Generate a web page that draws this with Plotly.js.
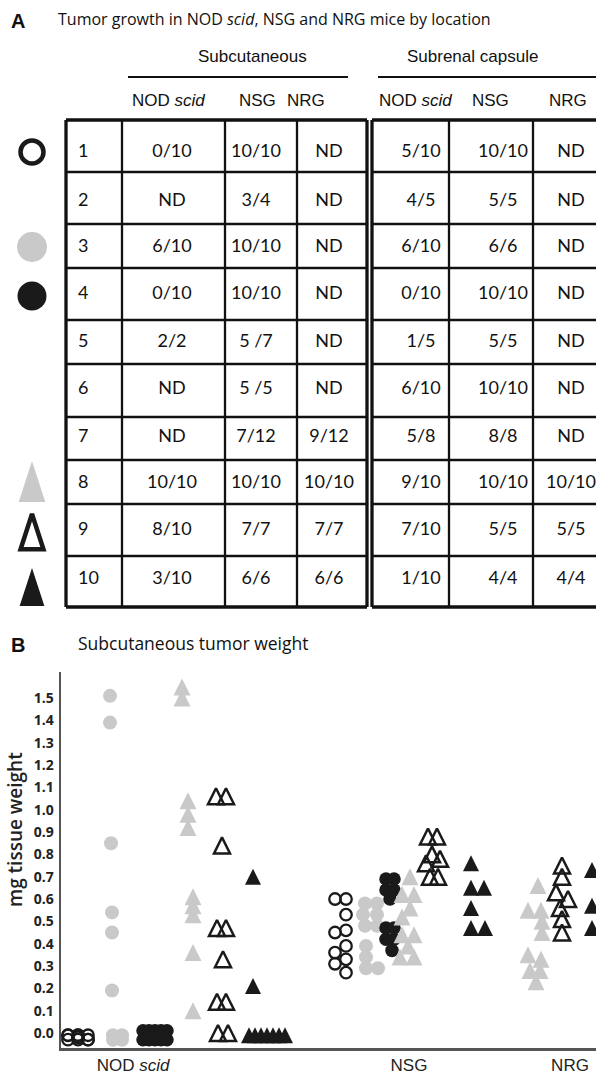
<!DOCTYPE html>
<html><head><meta charset="utf-8">
<script src="https://cdn.plot.ly/plotly-3.0.1.min.js"></script>
<style>html,body{margin:0;padding:0;background:#fff}#chart{width:596px;height:1079px}</style>
</head><body><div id="chart"></div>
<script>
// ================= PANEL A : table data =================
const panelATitle = 'Tumor growth in NOD <i>scid</i>, NSG and NRG mice by location';
const siteLabels = ['Subcutaneous', 'Subrenal capsule'];
const strainLabels = ['NOD <i>scid</i>', 'NSG', 'NRG'];
const tumorIds = ['1','2','3','4','5','6','7','8','9','10'];
const subcutNODscid = ['0/10','ND','6/10','0/10','2/2','ND','ND','10/10','8/10','3/10'];
const subcutNSG     = ['10/10','3/4','10/10','10/10','5 /7','5 /5','7/12','10/10','7/7','6/6'];
const subcutNRG     = ['ND','ND','ND','ND','ND','ND','9/12','10/10','7/7','6/6'];
const subrenNODscid = ['5/10','4/5','6/10','0/10','1/5','6/10','5/8','9/10','7/10','1/10'];
const subrenNSG     = ['10/10','5/5','6/6','10/10','5/5','10/10','8/8','10/10','5/5','4/4'];
const subrenNRG     = ['ND','ND','ND','ND','ND','ND','ND','10/10','5/5','4/4'];
const legendTumors  = ['1','3','4','8','9','10'];

// ================= PANEL B : scatter data =================
const panelBTitle = 'Subcutaneous tumor weight';
const yAxisTitle = 'mg tissue weight';
const yTickLabels = ['0.0','0.1','0.2','0.3','0.4','0.5','0.6','0.7','0.8','0.9','1.0','1.1','1.2','1.3','1.4','1.5'];
const strainTicks = ['NOD <i>scid</i>', 'NSG', 'NRG'];

// NOD scid (position along strain axis, weight in mg)
const nodT1Pos  = [68,78,88,68,78,88,68,78,88,78];
const nodT1Wt   = [-0.01,-0.01,-0.01,-0.03,-0.03,-0.03,-0.01,-0.01,-0.03,-0.02];
const nodT3Pos  = [110,110,111,112,112,112,113,122,113,122];
const nodT3Wt   = [1.51,1.39,0.85,0.54,0.45,0.19,-0.01,-0.01,-0.03,-0.03];
const nodT4Pos  = [143,149,155,161,167,143,149,155,161,167];
const nodT4Wt   = [0.01,0.01,0.01,0.01,0.01,-0.03,-0.03,-0.03,-0.03,-0.03];
const nodT8Pos  = [182,182,188,188,188,193,193,193,193,193];
const nodT8Wt   = [1.55,1.50,1.04,0.98,0.92,0.61,0.57,0.53,0.36,0.10];
const nodT9Pos  = [216,226,222,217,226,223,217,226,218,228];
const nodT9Wt   = [1.06,1.06,0.84,0.47,0.47,0.33,0.14,0.14,0.00,0.00];
const nodT10Pos = [252,253,253,249,255,261,267,273,279,285];
const nodT10Wt  = [1.64,0.70,0.21,-0.01,-0.01,-0.01,-0.01,-0.01,-0.01,-0.01];
// NSG
const nsgT1Pos  = [335,335,335,335,346,346,346,346,346,346];
const nsgT1Wt   = [0.60,0.45,0.36,0.31,0.60,0.53,0.46,0.39,0.33,0.27];
const nsgT3Pos  = [365,377,363,377,365,377,366,366,366,378];
const nsgT3Wt   = [0.58,0.58,0.53,0.53,0.48,0.48,0.39,0.34,0.29,0.29];
const nsgT4Pos  = [386,394,386,394,390,386,394,386,394,392];
const nsgT4Wt   = [0.69,0.69,0.64,0.64,0.60,0.47,0.47,0.42,0.42,0.37];
const nsgT8Pos  = [410,402,414,410,402,402,414,408,400,414];
const nsgT8Wt   = [0.70,0.62,0.62,0.56,0.52,0.44,0.44,0.39,0.34,0.34];
const nsgT9Pos  = [428,437,432,440,426,430,438];
const nsgT9Wt   = [0.88,0.88,0.80,0.78,0.76,0.70,0.70];
const nsgT10Pos = [471,471,484,471,471,485];
const nsgT10Wt  = [0.76,0.65,0.65,0.56,0.47,0.47];
// NRG
const nrgT8Pos  = [538,528,541,542,542,528,541,530,540,536];
const nrgT8Wt   = [0.66,0.55,0.55,0.50,0.45,0.35,0.33,0.28,0.28,0.23];
const nrgT9Pos  = [562,562,556,568,560,562,562];
const nrgT9Wt   = [0.75,0.70,0.63,0.60,0.56,0.51,0.45];
const nrgT10Pos = [592,604,592,604,592,604];
const nrgT10Wt  = [0.73,0.73,0.57,0.57,0.47,0.47];

// ================= styling / layout =================
const GRAY = '#c9c9c9', BLACK = '#1a1a1a';
function style(t) {
  switch (t) {
    case '1':  return {symbol:'circle-open', color:BLACK, size:11.5, line:{width:2.3, color:BLACK}};
    case '3':  return {symbol:'circle', color:GRAY, size:14, line:{width:0}};
    case '4':  return {symbol:'circle', color:BLACK, size:13.5, line:{width:0}};
    case '8':  return {symbol:'arrow-down', angle:180, standoff:8.5, color:GRAY, size:17, line:{width:0}};
    case '9':  return {symbol:'arrow-down-open', angle:180, standoff:8, color:BLACK, size:16, line:{width:2.5, color:BLACK}};
    case '10': return {symbol:'arrow-down', angle:180, standoff:8, color:BLACK, size:16, line:{width:0}};
  }
}
// larger legend symbols beside the table (tall arrow heads, tip-anchored)
function legendStyle(t) {
  switch (t) {
    case '1':  return {m:{symbol:'circle-open', color:BLACK, size:23, line:{width:4.5, color:BLACK}}, dy:0};
    case '3':  return {m:{symbol:'circle', color:GRAY, size:30, line:{width:0}}, dy:0};
    case '4':  return {m:{symbol:'circle', color:BLACK, size:29, line:{width:0}}, dy:2};
    case '8':  return {m:{symbol:'arrow', color:GRAY, size:43, line:{width:0}}, dy:-22};
    case '9':  return {m:{symbol:'arrow-open', color:BLACK, size:37, line:{width:4.5, color:BLACK}}, dy:-16};
    case '10': return {m:{symbol:'arrow', color:BLACK, size:40, line:{width:0}}, dy:-11};
  }
}

const traces = [];
// ---- Panel B scatter
const groups = [
  ['1', nodT1Pos, nodT1Wt], ['3', nodT3Pos, nodT3Wt], ['4', nodT4Pos, nodT4Wt],
  ['8', nodT8Pos, nodT8Wt], ['9', nodT9Pos, nodT9Wt], ['10', nodT10Pos, nodT10Wt],
  ['1', nsgT1Pos, nsgT1Wt], ['3', nsgT3Pos, nsgT3Wt], ['4', nsgT4Pos, nsgT4Wt],
  ['8', nsgT8Pos, nsgT8Wt], ['9', nsgT9Pos, nsgT9Wt], ['10', nsgT10Pos, nsgT10Wt],
  ['8', nrgT8Pos, nrgT8Wt], ['9', nrgT9Pos, nrgT9Wt], ['10', nrgT10Pos, nrgT10Wt]
];
groups.forEach(g => {
  traces.push({type:'scatter', mode:'markers', x:g[1], y:g[2], xaxis:'x', yaxis:'y',
    cliponaxis:false, hoverinfo:'skip', marker:style(g[0])});
});

// ---- Panel A table geometry (layout constants, px-like units on x2/y2)
const rowEdges = [120,172,224,268,320,364,417,460,504,556,607];
const textRowY = [152,201,247,294,342,389,437,483,530,579];
const colEdges = [66,122,225,297,367,372,449,533,598];
const cellX = [172,256,329,421,503,571];
const tableCols = [subcutNODscid, subcutNSG, subcutNRG, subrenNODscid, subrenNSG, subrenNRG];
const cellFont = {family:'Lato, Carlito, sans-serif', size:18, color:'#111'};

traces.push({type:'scatter', mode:'text', xaxis:'x2', yaxis:'y2', cliponaxis:false, hoverinfo:'skip',
  x: tumorIds.map(() => 78), y: textRowY, text: tumorIds, textposition:'middle right', textfont:cellFont});
tableCols.forEach((col, i) => {
  traces.push({type:'scatter', mode:'text', xaxis:'x2', yaxis:'y2', cliponaxis:false, hoverinfo:'skip',
    x: col.map(() => cellX[i]), y: textRowY, text: col, textposition:'middle center', textfont:cellFont});
});
legendTumors.forEach(t => {
  const r = tumorIds.indexOf(t);
  const ls = legendStyle(t);
  traces.push({type:'scatter', mode:'markers', xaxis:'x2', yaxis:'y2', cliponaxis:false, hoverinfo:'skip',
    x:[32], y:[textRowY[r] + ls.dy], marker:ls.m});
});

const shapes = [];
const LC = '#111';
function hline(y, x0, x1, w) { shapes.push({type:'line', xref:'x2', yref:'y2', x0:x0, x1:x1, y0:y, y1:y, line:{color:LC, width:w}}); }
function vline(x, y0, y1, w) { shapes.push({type:'line', xref:'x2', yref:'y2', x0:x, x1:x, y0:y0, y1:y1, line:{color:LC, width:w}}); }
rowEdges.forEach((y, i) => {
  const w = (i === 0 || i === rowEdges.length - 1) ? 3.5 : 2.3;
  hline(y, colEdges[0], colEdges[4], w);
  hline(y, colEdges[5], colEdges[8], w);
});
colEdges.forEach((x, i) => {
  const w = (i === 0 || i === 4 || i === 5 || i === 8) ? 3.3 : 2.3;
  vline(x, rowEdges[0], rowEdges[rowEdges.length - 1], w);
});
hline(77, 128, 348, 2);
hline(77, 378, 598, 2);

const narrow = 'Liberation Sans Narrow, Arial Narrow, sans-serif';
const annotations = [];
function ann(x, y, text, font, extra) {
  annotations.push(Object.assign({xref:'x2', yref:'y2', x:x, y:y, text:text, showarrow:false,
    xanchor:'center', yanchor:'middle', font:font}, extra || {}));
}
ann(18, 21, 'A', {family:'Liberation Sans, Arial, sans-serif', size:20, weight:700, color:'#111'});
ann(56, 19, panelATitle, {family:'Open Sans, sans-serif', size:16, color:'#111'}, {xanchor:'left'});
const siteX = [252, 472];
siteLabels.forEach((s, i) => ann(siteX[i], 56, s, {family:narrow, size:17, color:'#111'}));
const headX = [168, 257, 306, 415, 490, 568];
[0,1].forEach(si => strainLabels.forEach((s, j) => ann(headX[si*3 + j], 100, s, {family:narrow, size:17, color:'#111'})));
ann(18, 645, 'B', {family:'Liberation Sans, Arial, sans-serif', size:20, weight:700, color:'#111'});
ann(76, 643, panelBTitle, {family:'Open Sans, sans-serif', size:17.5, color:'#111'}, {xanchor:'left'});
ann(15, 830, yAxisTitle, {family:'Open Sans, sans-serif', size:19, weight:600, color:'#222'}, {textangle:-90});

const layout = {
  width:596, height:1079, margin:{l:0, r:0, t:0, b:0},
  paper_bgcolor:'#ffffff', plot_bgcolor:'rgba(0,0,0,0)', showlegend:false,
  font:{family:'Open Sans, sans-serif', color:'#111'},
  xaxis:{domain:[61/596, 1], range:[61, 596], anchor:'y', showline:true, linecolor:'#555', linewidth:2.5,
    showgrid:false, zeroline:false, ticks:'', tickvals:[133, 409, 570], ticktext:strainTicks,
    tickfont:{family:narrow, size:17, color:'#222'}, ticklabelstandoff:0},
  yaxis:{domain:[31/1079, 407/1079], range:[-0.0672, 1.6167], anchor:'x', showline:true, linecolor:'#555', linewidth:2.5,
    showgrid:false, zeroline:false, ticks:'', tickvals:yTickLabels.map(Number), ticktext:yTickLabels,
    tickfont:{family:'Open Sans, sans-serif', size:14, weight:700, color:'#222'}, ticklabelstandoff:2},
  xaxis2:{domain:[0, 1], range:[0, 596], anchor:'y2', visible:false},
  yaxis2:{domain:[0, 1], range:[1079, 0], anchor:'x2', visible:false},
  shapes:shapes, annotations:annotations
};

Plotly.newPlot('chart', traces, layout, {staticPlot:true, displayModeBar:false});
</script></body></html>
